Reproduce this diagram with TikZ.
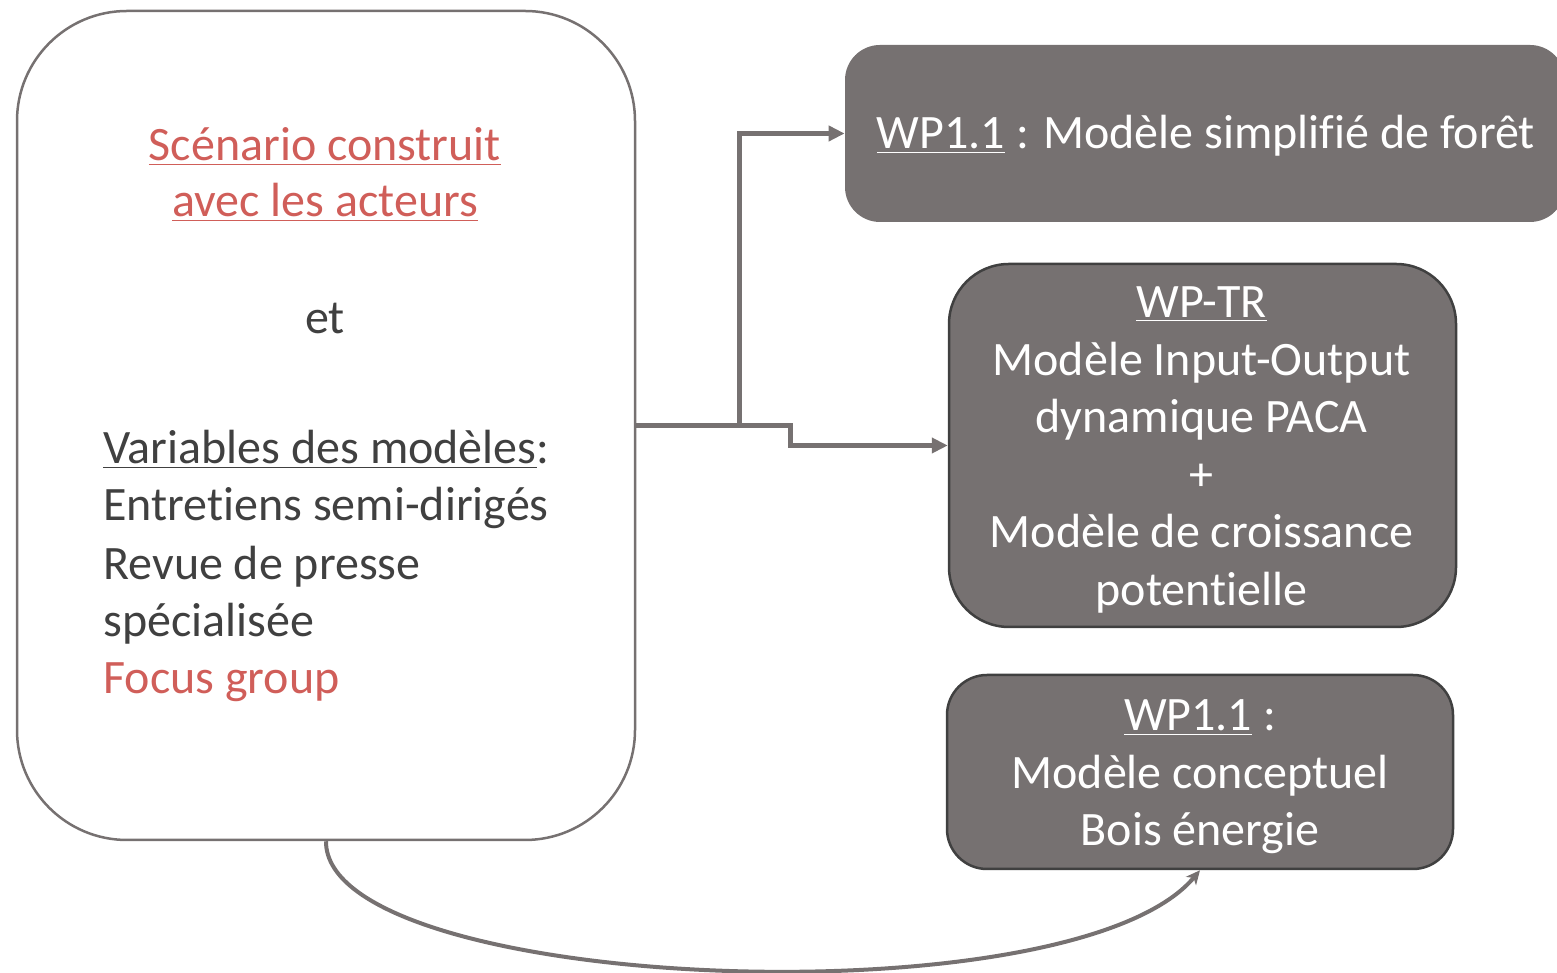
\documentclass[tikz,border=0pt]{standalone}
\usepackage{fontspec}
\setmainfont[Ligatures=NoCommon]{Carlito}
\usetikzlibrary{arrows.meta,calc}
\definecolor{boxgray}{HTML}{767171}
\definecolor{linegray}{HTML}{767171}
\definecolor{darktext}{HTML}{404040}
\definecolor{accentred}{RGB}{208,94,89}
\begin{document}
\begin{tikzpicture}[x=0.5pt,y=0.5pt,
  font=\fontsize{24}{28.75}\selectfont,
  srcbox/.style={draw=linegray, line width=1.25pt, rounded corners=55pt,
    minimum width=309pt, minimum height=414.5pt, inner sep=0pt},
  wpbox/.style={fill=boxgray, inner sep=0pt},
  wpframe/.style={wpbox, draw=darktext, line width=1.25pt},
  wptext/.style={text=white, align=center, inner sep=0pt},
  ctext/.style={anchor=base, inner sep=0pt},
  ltext/.style={anchor=base west, inner sep=0pt, text=darktext},
  conn/.style={draw=linegray, line width=2.5pt, -{Triangle[length=8pt,width=7.5pt]}},
  curvearrow/.style={draw=linegray, line width=2pt, -{Stealth[length=7pt,width=6.5pt,inset=2pt]}}]
\useasboundingbox (0,0) rectangle (1557,973);

% source box with the scenario and the model variables
\node[srcbox] (src) at (326,547.5) {};
\node[ctext, text=accentred] (l1) at (325,812) {\underline{Scénario construit}};
\node[ctext, text=accentred] (l2) at (325,756) {\underline{avec les acteurs}};
\node[ctext, text=darktext] (l3) at (325,639) {et};
\node[ltext] (l4) at (103,509) {\underline{Variables des modèles}:};
\node[ltext] (l5) at (103,452) {Entretiens semi-dirigés};
\node[ltext] (l6) at (103,393) {Revue de presse};
\node[ltext] (l7) at (103,336) {spécialisée};
\node[ltext, text=accentred] (l8) at (103,279) {Focus group};

% work-package boxes
\node[wpbox, rounded corners=17.5pt, minimum width=360pt, minimum height=88.5pt]
  (top) at (1205,839.5) {};
\node[wptext] (toptext) at (1206,837) {\underline{WP1.1} : Modèle simplifié de forêt};
\node[wpframe, rounded corners=30pt, minimum width=253.5pt, minimum height=181.5pt]
  (mid) at (1202.5,527.5) {};
\node[wptext] (midtext) at (1201.5,523)
  {\underline{WP-TR}\\Modèle Input-Output\\dynamique PACA\\+\\Modèle de croissance\\potentielle};
\node[wpframe, rounded corners=20pt, minimum width=253pt, minimum height=97pt]
  (bot) at (1200,201) {};
\node[wptext] (bottext) at (1200,196) {\underline{WP1.1} :\\Modèle conceptuel\\Bois énergie};

% connectors
\coordinate (j1) at (739,547.5);
\coordinate (j2) at (790,547.5);
\draw[conn] (src.east) -- (j1) |- (top.west);
\draw[conn] (j1) -- (j2) |- (mid.west);
\draw[curvearrow] (src.south) .. controls (325,-19) and (1072,-50) .. (bot.south);
\end{tikzpicture}
\end{document}
